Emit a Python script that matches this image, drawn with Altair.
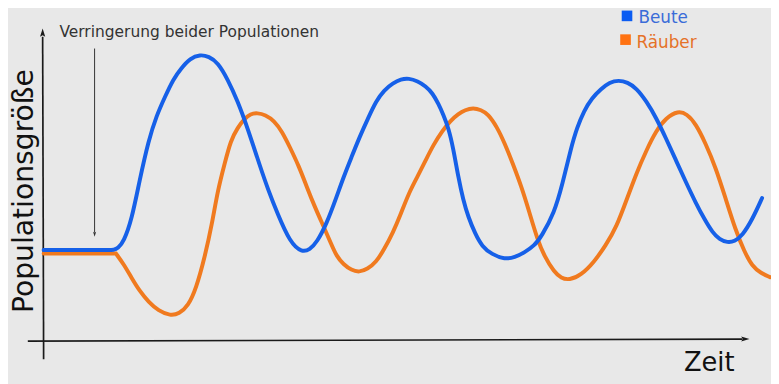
import altair as alt
import pandas as pd

# ---- data (time units, population units) ----
beute_time = [0, 30, 55, 65, 71, 75, 81, 89, 97, 106, 114, 123, 131, 139,
              148, 158, 167, 176, 186, 196, 206, 219, 227, 236,
              249, 261, 269, 276, 286, 296, 303, 311, 319, 328,
              336, 344, 353, 361, 369, 378, 386, 393, 399, 404,
              409, 414, 419, 424, 429, 436, 443, 453, 466, 476,
              486, 496, 503, 516, 524, 533, 539, 546, 554, 563,
              572, 581, 590, 599, 609, 619, 629, 639, 649, 659,
              668, 676, 683, 691, 698, 706, 716, 726]
beute_pop = [94.5, 94.5, 94.5, 94.5, 94.5, 96, 103, 125, 165, 205, 230, 250, 267, 278,
             288, 292, 290, 284, 267, 245, 218, 178, 155, 132,
             102, 92, 95, 102, 121, 148, 168, 188, 208, 228,
             245, 256, 263, 267, 268, 265, 260, 253, 242, 231,
             218, 197, 168, 145, 128, 111, 98, 90, 85, 87,
             92, 99, 108, 132, 160, 198, 218, 235, 248, 257,
             264, 266, 264, 258, 245, 228, 207, 185, 163, 142,
             125, 112, 105, 102, 103, 109, 125, 147]

raeuber_time = [0, 30, 55, 65, 73, 73, 73, 81, 89, 97, 106, 116, 128, 137, 146,
                154, 163, 170, 176, 183, 189, 196, 203, 209, 216,
                224, 233, 241, 249, 258, 266, 274, 283, 290, 296,
                303, 311, 319, 327, 336, 344, 353, 361, 369, 378,
                386, 394, 403, 411, 419, 426, 434, 442, 449, 458,
                466, 474, 483, 491, 499, 506, 516, 523, 531, 543,
                556, 568, 579, 589, 599, 609, 619, 629, 641, 650,
                659, 669, 679, 689, 699, 708, 716, 725, 734]
raeuber_pop = [91, 91, 91, 91, 91, 91, 91, 80, 66, 53, 42, 33, 28, 30, 38,
               55, 88, 120, 155, 182, 205, 218, 227, 232, 233,
               231, 225, 214, 198, 179, 158, 138, 118, 102, 88,
               80, 74, 72, 75, 82, 95, 112, 131, 152, 169,
               185, 201, 215, 225, 232, 236, 238, 236, 232, 219,
               202, 182, 158, 132, 105, 88, 72, 66, 64, 69,
               82, 99, 118, 145, 172, 195, 215, 228, 235, 232,
               222, 202, 178, 147, 115, 93, 78, 71, 67]

series_names = ["Beute", "Räuber"]
line_colors = ["#1660e8", "#f07a1f"]
square_colors = ["#0b5cf2", "#ff7212"]
label_colors = ["#3a6cd8", "#e57228"]

annotation_text = "Verringerung beider Populationen"
y_title = "Populationsgröße"
x_title = "Zeit"

assert len(beute_time) == len(beute_pop)
assert len(raeuber_time) == len(raeuber_pop)

# ---- scales ----
xs = alt.Scale(domain=[-36, 735], nice=False, zero=False)
ys = alt.Scale(domain=[-39, 337], nice=False, zero=False)


def X(f="t"):
    return alt.X(f"{f}:Q", scale=xs, axis=None)


def Y(f="n"):
    return alt.Y(f"{f}:Q", scale=ys, axis=None)


beute_df = pd.DataFrame({"t": beute_time, "n": beute_pop, "i": range(len(beute_time))})
raeuber_df = pd.DataFrame({"t": raeuber_time, "n": raeuber_pop, "i": range(len(raeuber_time))})

raeuber_line = alt.Chart(raeuber_df).mark_line(
    color=line_colors[1], strokeWidth=4, interpolate="basis", strokeCap="round"
).encode(x=X(), y=Y(), order="i:Q")
beute_line = alt.Chart(beute_df).mark_line(
    color=line_colors[0], strokeWidth=4, interpolate="basis", strokeCap="round"
).encode(x=X(), y=Y(), order="i:Q")

# axes drawn as lines with arrowheads
v_axis = pd.DataFrame({"t": [0, -1], "n": [-16, 310]})
h_axis = pd.DataFrame({"t": [-16, 706], "n": [2.3, 4.4]})
axis_v = alt.Chart(v_axis).mark_line(color="#1a1a1a", strokeWidth=1.7).encode(x=X(), y=Y())
axis_h = alt.Chart(h_axis).mark_line(color="#1a1a1a", strokeWidth=1.7).encode(x=X(), y=Y())

arrow_up = alt.Chart(pd.DataFrame({"t": [-1], "n": [313]})).mark_point(
    shape="M-0.5,0.6L0,-1L0.5,0.6L0,0.3Z", filled=True, color="#1a1a1a", size=110, opacity=1
).encode(x=X(), y=Y())
arrow_right = alt.Chart(pd.DataFrame({"t": [708], "n": [4.5]})).mark_point(
    shape="M-0.6,-0.5L1,0L-0.6,0.5L-0.3,0Z", filled=True, color="#1a1a1a", size=110, opacity=1
).encode(x=X(), y=Y())

# annotation arrow
ann_line_df = pd.DataFrame({"t": [51.5, 51.5], "n": [298, 112]})
ann_line = alt.Chart(ann_line_df).mark_line(color="#333333", strokeWidth=1).encode(x=X(), y=Y())
ann_head = alt.Chart(pd.DataFrame({"t": [51.5], "n": [111]})).mark_point(
    shape="M-0.5,-0.6L0,1L0.5,-0.6L0,-0.3Z", filled=True, color="#333333", size=40, opacity=1
).encode(x=X(), y=Y())

ann_text = alt.Chart(pd.DataFrame({"t": [16], "n": [310], "label": [annotation_text]})).mark_text(
    align="left", baseline="alphabetic", fontSize=15.6, font="DejaVu Sans", color="#333333"
).encode(x=X(), y=Y(), text="label:N")

ytitle = alt.Chart(pd.DataFrame({"t": [-19.5], "n": [154], "label": [y_title]})).mark_text(
    align="center", baseline="middle", angle=270, fontSize=28.5, font="DejaVu Sans", color="#111111"
).encode(x=X(), y=Y(), text="label:N")

xtitle = alt.Chart(pd.DataFrame({"t": [647], "n": [-28], "label": [x_title]})).mark_text(
    align="left", baseline="alphabetic", fontSize=26, font="DejaVu Sans", color="#111111"
).encode(x=X(), y=Y(), text="label:N")

# legend
legend_df = pd.DataFrame({
    "name": series_names,
    "sq_t": [589.5, 588],
    "sq_n": [331, 307],
    "lab_t": [601, 599],
    "lab_n": [324, 299],
})
color_sq = alt.Color("name:N", scale=alt.Scale(domain=series_names, range=square_colors), legend=None)
leg_sq = alt.Chart(legend_df).mark_point(shape="square", filled=True, size=115, opacity=1).encode(
    x=X("sq_t"), y=Y("sq_n"), color=color_sq
)
leg_lab = alt.Chart(legend_df).mark_text(
    align="left", baseline="alphabetic", fontSize=17, font="DejaVu Sans"
).encode(
    x=X("lab_t"), y=Y("lab_n"), text="name:N",
    fill=alt.Fill("name:N", scale=alt.Scale(domain=series_names, range=label_colors), legend=None),
)

chart = alt.layer(
    axis_v, axis_h, arrow_up, arrow_right,
    ann_line, ann_head, ann_text,
    raeuber_line, beute_line,
    ytitle, xtitle, leg_sq, leg_lab,
).resolve_scale(color="independent").properties(
    width=771, height=376, padding=0, autosize=alt.AutoSizeParams(type="none"),
    background="#e8e8e8",
).configure_view(stroke=None)

chart.save("out.html", embed_options={"renderer": "svg", "actions": False})
